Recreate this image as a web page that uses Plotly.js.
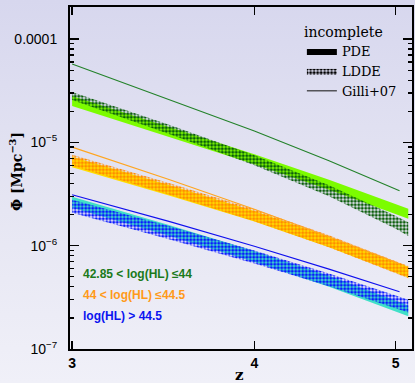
<!DOCTYPE html>
<html>
<head>
<meta charset="utf-8">
<script src="https://cdn.plot.ly/plotly-3.0.1.min.js"></script>
<style>
  html, body { margin: 0; padding: 0; }
  body { width: 415px; height: 383px; background: linear-gradient(to bottom, #d7d7ee 0%, #e6e6f3 55%, #f0f0f8 100%); }
  #chart { width: 415px; height: 383px; }
</style>
</head>
<body>
<div id="chart"></div>
<script>
// Redshift grid for the model bands and for the Gilli+07 curves
const zBand  = [3, 3.5, 4, 4.5, 5, 5.1];
const zGilli = [3, 3.5, 4, 4.5, 5.03];

// 42.85 < log(HL) <= 44
const greenPdeHi  = [2.81e-5, 1.41e-5, 7.66e-6, 4.34e-6, 2.52e-6, 2.28e-6];
const greenPdeLo  = [2.25e-5, 1.13e-5, 6.13e-6, 3.48e-6, 2.02e-6, 1.82e-6];
const greenLddeHi = [3.07e-5, 1.47e-5, 7.49e-6, 3.84e-6, 1.94e-6, 1.69e-6];
const greenLddeLo = [2.57e-5, 1.20e-5, 6.00e-6, 3.01e-6, 1.46e-6, 1.24e-6];
const greenGilli  = [5.73e-5, 2.60e-5, 1.29e-5, 6.63e-6, 3.40e-6];

// 44 < log(HL) <= 44.5
const orangePdeHi  = [7.24e-6, 3.85e-6, 2.16e-6, 1.22e-6, 6.94e-7, 6.24e-7];
const orangePdeLo  = [5.74e-6, 3.04e-6, 1.71e-6, 9.67e-7, 5.48e-7, 4.91e-7];
const orangeLddeHi = [7.57e-6, 4.02e-6, 2.25e-6, 1.26e-6, 7.08e-7, 6.37e-7];
const orangeLddeLo = [5.93e-6, 3.11e-6, 1.72e-6, 9.67e-7, 5.42e-7, 4.85e-7];
const orangeGilli  = [8.99e-6, 4.34e-6, 2.25e-6, 1.22e-6, 6.70e-7];

// log(HL) > 44.5
const bluePdeHi  = [2.97e-6, 1.58e-6, 8.87e-7, 5.11e-7, 2.94e-7, 2.64e-7];
const bluePdeLo  = [2.33e-6, 1.24e-6, 6.94e-7, 4.00e-7, 2.30e-7, 2.07e-7];
const blueLddeHi = [2.78e-6, 1.54e-6, 8.97e-7, 5.39e-7, 3.30e-7, 3.00e-7];
const blueLddeLo = [2.08e-6, 1.15e-6, 6.72e-7, 4.04e-7, 2.47e-7, 2.25e-7];
const blueGilli  = [3.11e-6, 1.71e-6, 9.89e-7, 5.93e-7, 3.59e-7];

// Axis tick labels
const xTickVals = [3, 4, 5];
const xTickText = ['3', '4', '5'];
const yTickVals = [1e-7, 1e-6, 1e-5, 1e-4];
const yTickText = ['10<sup>−7</sup>', '10<sup>−6</sup>', '10<sup>−5</sup>', '0.0001'];

const groupLabels = ['42.85 < log(HL) ≤44', '44 < log(HL) ≤44.5', 'log(HL) > 44.5'];

// Checkered fill used for the LDDE bands
const checker = color => ({shape: '.', fgcolor: color, bgcolor: 'rgba(0,0,0,0)', size: 3.5, solidity: 0.6});

function band(x, hi, lo, style) {
  const xs = x.concat(x.slice().reverse());
  const ys = hi.concat(lo.slice().reverse());
  const t = {x: xs, y: ys, type: 'scatter', mode: 'lines', fill: 'toself',
             line: {width: 0}, hoverinfo: 'skip', showlegend: false};
  if (style.pattern) {
    t.fillcolor = 'rgba(0,0,0,0)';
    t.fillpattern = checker(style.color);
  } else {
    t.fillcolor = style.color;
  }
  return t;
}

function curve(x, y, color) {
  return {x: x, y: y, type: 'scatter', mode: 'lines', line: {color: color, width: 1.1},
          hoverinfo: 'skip', showlegend: false};
}

const groups = [
  {pdeHi: greenPdeHi, pdeLo: greenPdeLo, lHi: greenLddeHi, lLo: greenLddeLo, gilli: greenGilli,
   pde: '#7cfc00', ldde: '#0b5e0b', line: '#23822a'},
  {pdeHi: orangePdeHi, pdeLo: orangePdeLo, lHi: orangeLddeHi, lLo: orangeLddeLo, gilli: orangeGilli,
   pde: '#ffdd00', ldde: '#ff8c00', line: '#ffa51f'},
  {pdeHi: bluePdeHi, pdeLo: bluePdeLo, lHi: blueLddeHi, lLo: blueLddeLo, gilli: blueGilli,
   pde: '#40e0c8', ldde: '#0a1aff', line: '#1010ee'}
];

const traces = [];
groups.forEach(g => {
  traces.push(band(zBand, g.pdeHi, g.pdeLo, {color: g.pde}));
  traces.push(band(zBand, g.lHi, g.lLo, {color: g.ldde, pattern: true}));
  traces.push(curve(zGilli, g.gilli, g.line));
});

// Legend keys (drawn in black)
traces.push({x: [null], y: [null], type: 'scatter', mode: 'lines', fill: 'toself', name: 'PDE',
             fillcolor: '#000000', line: {width: 0}});
traces.push({x: [null], y: [null], type: 'scatter', mode: 'lines', fill: 'toself', name: 'LDDE',
             fillcolor: 'rgba(0,0,0,0)', line: {width: 0}, fillpattern: checker('#000000')});
traces.push({x: [null], y: [null], type: 'scatter', mode: 'lines', name: 'Gilli+07',
             line: {color: '#222222', width: 1.1}});

const yMinor = [];
[-7, -6, -5, -4].forEach(e => {
  for (let k = 2; k <= 9; k++) yMinor.push(k * Math.pow(10, e));
});

const labelColors = ['#1b7a1b', '#ff9a1a', '#0a14f0'];
const annotations = groupLabels.map((txt, i) => ({
  text: txt, xref: 'paper', yref: 'paper', x: 0.033, y: [0.219, 0.158, 0.096][i],
  xanchor: 'left', yanchor: 'middle', showarrow: false,
  font: {family: 'Liberation Sans, Arial, sans-serif', size: 12, color: labelColors[i], weight: 'bold'}
}));

// Legend heading and axis titles
annotations.push({
  text: 'incomplete', xref: 'paper', yref: 'paper', x: 0.679, y: 0.927,
  xanchor: 'left', yanchor: 'middle', showarrow: false,
  font: {family: 'DejaVu Serif, serif', size: 14, color: '#000'}
});
annotations.push({
  text: 'Φ [Mpc<sup>−3</sup>]', xref: 'paper', yref: 'paper', x: -0.158, y: 0.52,
  xanchor: 'center', yanchor: 'middle', textangle: -90, showarrow: false,
  font: {family: 'DejaVu Serif, serif', size: 14, color: '#000', weight: 'bold'}
});
annotations.push({
  text: 'z', xref: 'paper', yref: 'paper', x: 0.497, y: -0.077,
  xanchor: 'center', yanchor: 'middle', showarrow: false, borderpad: 0, height: 12,
  font: {family: 'DejaVu Serif, serif', size: 15, color: '#000', weight: 'bold'}
});

const layout = {
  width: 415, height: 383,
  margin: {l: 70, r: 3, t: 7, b: 34},
  paper_bgcolor: 'rgba(0,0,0,0)', plot_bgcolor: 'rgba(0,0,0,0)',
  font: {family: 'Liberation Sans, Arial, sans-serif', size: 14, color: '#000'},
  xaxis: {
    type: 'log', range: [Math.log10(2.99), Math.log10(5.13)],
    tickmode: 'array', tickvals: xTickVals, ticktext: xTickText,
    ticks: 'inside', ticklen: 8, tickwidth: 1.5, tickcolor: '#000',
    showline: true, linewidth: 2, linecolor: '#000', mirror: 'allticks',
    showgrid: false, zeroline: false, ticklabelstandoff: 0,
    tickfont: {size: 14, weight: 'bold'}
  },
  yaxis: {
    type: 'log', range: [-7, -3.69],
    tickmode: 'array', tickvals: yTickVals, ticktext: yTickText,
    ticks: 'inside', ticklen: 9, tickwidth: 1.5, tickcolor: '#000',
    minor: {tickmode: 'array', tickvals: yMinor, ticks: 'inside', ticklen: 4, tickwidth: 1.2, tickcolor: '#000', showgrid: false},
    showline: true, linewidth: 2, linecolor: '#000', mirror: 'allticks',
    showgrid: false, zeroline: false, ticklabelstandoff: 8,
    tickfont: {size: 14}
  },
  showlegend: true,
  legend: {
    x: 0.678, y: 0.915, xanchor: 'left', yanchor: 'top',
    bgcolor: 'rgba(0,0,0,0)', borderwidth: 0,
    font: {family: 'DejaVu Serif, serif', size: 13, color: '#000'},
    tracegroupgap: 0, itemwidth: 30
  },
  annotations: annotations
};

Plotly.newPlot('chart', traces, layout, {staticPlot: true, displayModeBar: false});
</script>
</body>
</html>
